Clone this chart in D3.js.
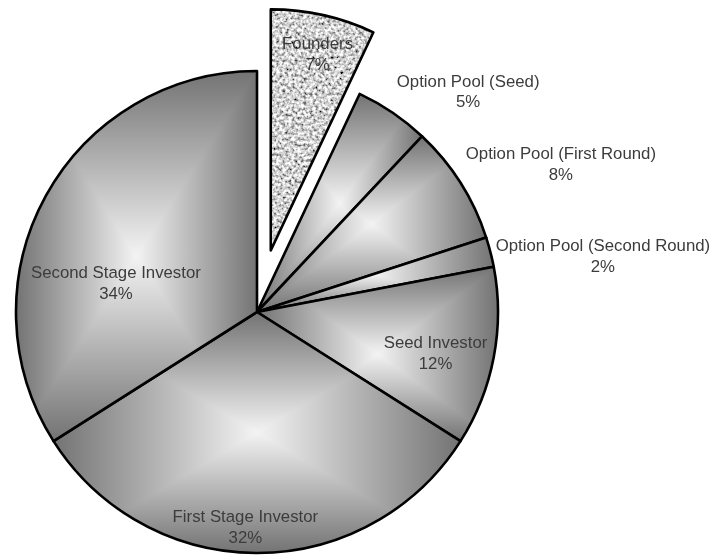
<!DOCTYPE html>
<html>
<head>
<meta charset="utf-8">
<script src="https://cdn.jsdelivr.net/npm/d3@7"></script>
<style>
  html, body { margin: 0; padding: 0; background: #fff; }
  svg { display: block; }
</style>
</head>
<body>
<div id="chart"></div>
<script>
// ---- data ----
const categories = [
  "Founders",
  "Option Pool (Seed)",
  "Option Pool (First Round)",
  "Option Pool (Second Round)",
  "Seed Investor",
  "First Stage Investor",
  "Second Stage Investor"
];
const shares = [7, 5, 8, 2, 12, 32, 34];
const explodedCategories = ["Founders"];
const texturedCategories = ["Founders"];

// ---- layout ----
const W = 716, H = 557;
const cx = 257, cy = 312, R = 241;
const explodeFrac = 0.262;
// label placement per category: angle shift (deg) from slice middle, radius factor
const labelLayout = {
  "Founders": [0.8, 0.838],
  "Option Pool (Seed)": [9.5, 1.268],
  "Option Pool (First Round)": [6.4, 1.403],
  "Option Pool (Second Round)": [5.2, 1.454],
  "Seed Investor": [2.1, 0.76],
  "First Stage Investor": [3.1, 0.893],
  "Second Stage Investor": [-17, 0.598]
};

const data = categories.map((c, i) => ({ name: c, value: shares[i] }));

const svg = d3.select("#chart").append("svg")
  .attr("width", W).attr("height", H)
  .attr("font-family", "'Liberation Sans', Arial, sans-serif");

svg.append("rect").attr("width", W).attr("height", H).attr("fill", "#fff");

const defs = svg.append("defs");
const stops = [[0, "#737373"], [0.5, "#f3f3f3"], [1, "#737373"]];
const gh = defs.append("linearGradient").attr("id", "gh")
  .attr("x1", 0).attr("y1", 0).attr("x2", 1).attr("y2", 0);
const gv = defs.append("linearGradient").attr("id", "gv")
  .attr("x1", 0).attr("y1", 0).attr("x2", 0).attr("y2", 1);
[gh, gv].forEach(g => stops.forEach(s =>
  g.append("stop").attr("offset", s[0]).attr("stop-color", s[1])));

const filt = defs.append("filter").attr("id", "granite")
  .attr("x", "-5%").attr("y", "-5%").attr("width", "110%").attr("height", "110%");
filt.append("feTurbulence").attr("type", "fractalNoise")
  .attr("baseFrequency", 0.33).attr("numOctaves", 2).attr("seed", 7).attr("result", "n");
filt.append("feColorMatrix").attr("in", "n").attr("type", "matrix")
  .attr("values", "2.0 0 0 0 -0.36  2.0 0 0 0 -0.36  2.0 0 0 0 -0.36  0 0 0 0 1")
  .attr("result", "g");
filt.append("feComposite").attr("in", "g").attr("in2", "SourceGraphic").attr("operator", "in");

const pie = d3.pie().sort(null).value(d => d.value).startAngle(0).endAngle(2 * Math.PI);
const arcs = pie(data);
const arc = d3.arc().innerRadius(0).outerRadius(R);

const offsetOf = d => {
  if (!explodedCategories.includes(d.data.name)) return [0, 0];
  const a = (d.startAngle + d.endAngle) / 2;
  return [Math.sin(a) * R * explodeFrac, -Math.cos(a) * R * explodeFrac];
};

const root = svg.append("g").attr("transform", `translate(${cx},${cy})`);

const sliceG = root.selectAll("g.slice").data(arcs).join("g")
  .attr("class", "slice")
  .attr("transform", d => { const o = offsetOf(d); return `translate(${o[0]},${o[1]})`; });

sliceG.each(function(d) {
  const g = d3.select(this);
  if (texturedCategories.includes(d.data.name)) {
    g.append("path").attr("d", arc(d)).attr("fill", "#b4b4b4").attr("filter", "url(#granite)");
  } else {
    g.append("path").attr("d", arc(d)).attr("fill", "url(#gh)");
    g.append("path").attr("d", arc(d)).attr("fill", "url(#gv)")
      .style("mix-blend-mode", "darken");
  }
});

sliceG.append("path")
  .attr("d", d => arc(d))
  .attr("fill", "none")
  .attr("stroke", "#000")
  .attr("stroke-width", 2.6)
  .attr("stroke-linejoin", "round");

// labels
const labels = root.selectAll("text.lbl").data(arcs).join("text")
  .attr("class", "lbl")
  .attr("font-size", 16.8)
  .attr("fill", "#3c3c3c")
  .attr("text-anchor", "middle")
  .attr("transform", d => {
    const o = offsetOf(d);
    const lay = labelLayout[d.data.name];
    const a = (d.startAngle + d.endAngle) / 2 + lay[0] * Math.PI / 180;
    const r = R * lay[1];
    return `translate(${o[0] + Math.sin(a) * r},${o[1] - Math.cos(a) * r})`;
  });
labels.append("tspan").attr("x", 0).attr("y", -10).attr("dominant-baseline", "central")
  .text(d => d.data.name);
labels.append("tspan").attr("x", 0).attr("y", 10.5).attr("dominant-baseline", "central")
  .text(d => d3.format(".0%")(d.data.value / d3.sum(shares)));
</script>
</body>
</html>
